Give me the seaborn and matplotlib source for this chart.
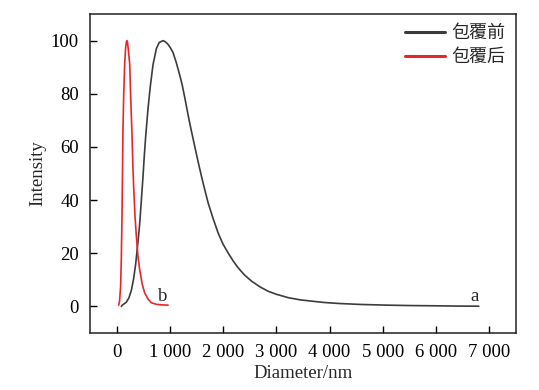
import pandas as pd
import numpy as np
import matplotlib
matplotlib.use('agg')
import matplotlib.pyplot as plt
import seaborn as sns

# values
before_d = [88, 100, 182, 230, 276, 320, 358, 400, 433, 465, 496, 521, 546,
            590, 634, 684, 747, 800, 872, 920, 966, 1010, 1060,
            1120, 1186, 1230, 1281, 1343, 1394, 1469, 1530, 1595, 1660, 1720,
            1814, 1908, 2000, 2096, 2190, 2285, 2400, 2536, 2700, 2850, 3000,
            3226, 3446, 3666, 3900, 4200, 4600, 5079, 5500, 6000, 6400, 6804]
before_i = [0, 0.4, 1.6, 3.2, 6, 10.5, 16, 24, 31, 40, 49, 57, 64,
            74.5, 83, 91, 97, 99.3, 100, 99.5, 98.6, 97.3, 95.5,
            91.8, 87, 83.5, 78.5, 72, 67, 60.1, 54.5, 48.9, 43.6, 38.9,
            33, 27.6, 23.4, 20.1, 17.1, 14.5, 11.9, 9.5, 7.3, 5.7, 4.6,
            3.3, 2.5, 2.0, 1.5, 1.1, 0.75, 0.5, 0.35, 0.25, 0.15, 0.1]
after_d = [38, 55, 75, 88, 100, 110, 119, 132, 151, 170, 185, 194, 205, 220,
           245, 264, 276, 290, 305, 320, 345, 371, 400, 433, 480, 527, 590,
           653, 750, 850, 967]
after_i = [0.5, 2, 7.6, 18, 32.6, 50, 66.4, 78.9, 91.4, 97.5, 99.6, 100, 99.4, 96.5,
           91.4, 79, 72, 64, 53, 45, 34, 26.4, 19, 13.9, 8.5, 5.1, 2.8,
           1.4, 0.8, 0.6, 0.5]
labels = ['包覆前', '包覆后']
x_ticks = [0, 1000, 2000, 3000, 4000, 5000, 6000, 7000]
y_ticks = [0, 20, 40, 60, 80, 100]

df = pd.concat([
    pd.DataFrame({'Diameter': before_d, 'Intensity': before_i, 'sample': labels[0]}),
    pd.DataFrame({'Diameter': after_d, 'Intensity': after_i, 'sample': labels[1]}),
])

sns.set_style('ticks')
plt.rcParams['font.family'] = ['Liberation Serif', 'Noto Sans CJK SC']
plt.rcParams['xtick.direction'] = 'in'
plt.rcParams['ytick.direction'] = 'in'

fig = plt.figure(figsize=(5.39, 3.9), dpi=100)
ax = fig.add_axes([0.167, 0.146, 0.79, 0.818])

sns.lineplot(data=df, x='Diameter', y='Intensity', hue='sample', hue_order=labels,
             palette=['#3c3c3c', '#e8262a'], linewidth=1.2, ax=ax, sort=False)

ax.set_xlim(-500, 7500)
ax.set_ylim(-10, 110)
ax.set_xticks(x_ticks)
ax.set_xticklabels([f'{t:,}'.replace(',', ' ') for t in x_ticks])
ax.set_yticks(y_ticks)
ax.tick_params(labelsize=13.5, length=5, width=1, colors='black', pad=8)
ax.set_xlabel('Diameter/nm', fontsize=13.5, labelpad=3)
ax.set_ylabel('Intensity', fontsize=13.5, labelpad=3)
for s in ax.spines.values():
    s.set_linewidth(1.1)
    s.set_color('#222222')

ax.text(6723, 3.7, 'a', fontsize=13.5, ha='center', va='center')
ax.text(872, 3.9, 'b', fontsize=13.5, ha='center', va='center')

leg = ax.legend(loc='upper right', frameon=False, fontsize=13, handlelength=2.2,
                handletextpad=0.35, labelspacing=0.4, borderaxespad=0.2)
for ln in leg.get_lines():
    ln.set_linewidth(2.2)

fig.savefig('out.png', dpi=100)
